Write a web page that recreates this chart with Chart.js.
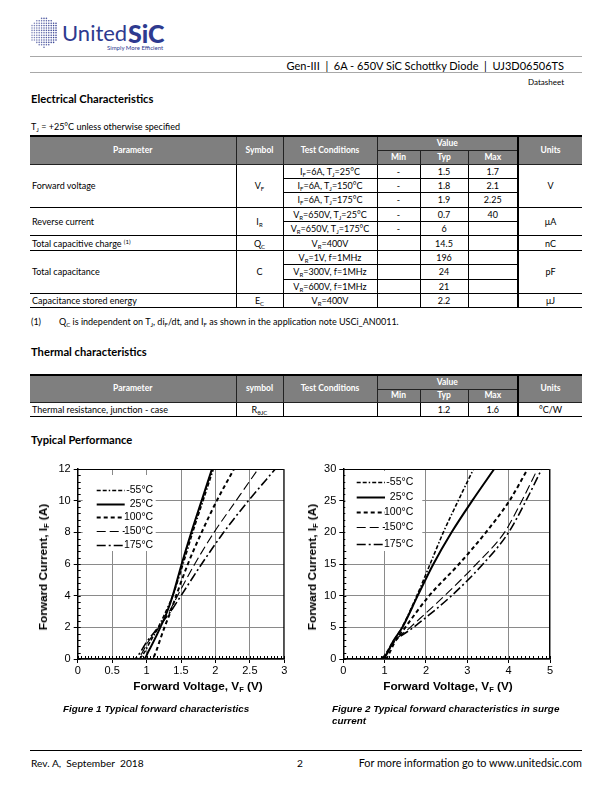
<!DOCTYPE html>
<html>
<head>
<meta charset="utf-8">
<script src="https://cdn.jsdelivr.net/npm/chart.js@4.4.1/dist/chart.umd.min.js"></script>
<style>
body{margin:0;width:612px;height:792px;position:relative;background:#fff;font-family:Lato,"Open Sans",sans-serif;color:#000;overflow:hidden}
.t{position:absolute;white-space:nowrap;line-height:12px}
.hd{font-weight:bold;font-size:11.2px}
.rule{position:absolute;left:30px;width:552px;height:0}
table{position:absolute;left:30px;width:552px;border-collapse:collapse;table-layout:fixed;font-size:9px}
th,td{padding:0;text-align:center;border:1px solid #000;white-space:nowrap;overflow:hidden;line-height:9px}
th{background:#7f7f7f;color:#fff;font-weight:bold;border-color:#222;font-size:8.5px}
tr.top th{border-top:2px solid #000}
td.l{text-align:left;padding-left:2px}
th:first-child,td.l{border-left:none}
th:last-child,td.u{border-right:none}
.u{border-left:2px solid #000 !important}
sub{font-size:6px;vertical-align:-1.5px;line-height:0}
sup{font-size:6px;vertical-align:3px;line-height:0}
.ax{position:absolute;font-family:"Liberation Sans",Arial,sans-serif;font-weight:bold;font-size:11.8px;white-space:nowrap;line-height:12px}
.ax sub{font-size:7.5px;vertical-align:-2px}
.cap{position:absolute;font-family:"Liberation Sans",Arial,sans-serif;font-weight:bold;font-style:italic;font-size:9.9px;line-height:12px;white-space:nowrap}
.box{position:absolute}
</style>
</head>
<body>

<canvas id="logoIcon" width="30" height="34" style="position:absolute;left:30px;top:15px"></canvas>
<div class="t" style="left:62px;top:21px;font-size:22px;line-height:24px;color:#2e3a8f;font-weight:400">United</div>
<div class="t" style="left:128px;top:20px;font-size:25px;line-height:26px;color:#2e3a8f;font-weight:900">SiC</div>
<div class="t" style="left:107px;top:44px;font-size:6px;line-height:7px;color:#2e3a8f">Simply More Efficient</div>

<div class="rule" style="top:56px;border-top:1.5px solid #a8a8a8"></div>
<div class="t" style="right:48px;top:60px;font-size:11px">Gen-III&nbsp; | &nbsp;6A - 650V SiC Schottky Diode&nbsp; | &nbsp;UJ3D06506TS</div>
<div class="rule" style="top:72px;border-top:1.5px solid #a8a8a8"></div>
<div class="t" style="right:48px;top:76px;font-size:8px">Datasheet</div>

<div class="t hd" style="left:31px;top:93px">Electrical Characteristics</div>
<div class="t" style="left:31px;top:121px;font-size:9px">T<sub>J</sub> = +25°C unless otherwise specified</div>

<table style="top:135px">
<colgroup><col style="width:206px"><col style="width:47px"><col style="width:94px"><col style="width:43px"><col style="width:48px"><col style="width:50px"><col style="width:64px"></colgroup>
<tr class="top" style="height:14px"><th rowspan="2">Parameter</th><th rowspan="2">Symbol</th><th rowspan="2">Test Conditions</th><th colspan="3">Value</th><th rowspan="2" class="u">Units</th></tr>
<tr style="height:14px"><th>Min</th><th>Typ</th><th>Max</th></tr>
<tr style="height:14.4px"><td rowspan="3" class="l">Forward voltage</td><td rowspan="3">V<sub>F</sub></td><td>I<sub>F</sub>=6A, T<sub>J</sub>=25°C</td><td>-</td><td>1.5</td><td>1.7</td><td rowspan="3" class="u">V</td></tr>
<tr style="height:14.4px"><td>I<sub>F</sub>=6A, T<sub>J</sub>=150°C</td><td>-</td><td>1.8</td><td>2.1</td></tr>
<tr style="height:14.4px"><td>I<sub>F</sub>=6A, T<sub>J</sub>=175°C</td><td>-</td><td>1.9</td><td>2.25</td></tr>
<tr style="height:14.4px"><td rowspan="2" class="l">Reverse current</td><td rowspan="2">I<sub>R</sub></td><td>V<sub>R</sub>=650V, T<sub>J</sub>=25°C</td><td>-</td><td>0.7</td><td>40</td><td rowspan="2" class="u">μA</td></tr>
<tr style="height:14.4px"><td>V<sub>R</sub>=650V, T<sub>J</sub>=175°C</td><td>-</td><td>6</td><td></td></tr>
<tr style="height:14.4px"><td class="l">Total capacitive charge <sup>(1)</sup></td><td>Q<sub>C</sub></td><td>V<sub>R</sub>=400V</td><td></td><td>14.5</td><td></td><td class="u">nC</td></tr>
<tr style="height:14.4px"><td rowspan="3" class="l">Total capacitance</td><td rowspan="3">C</td><td>V<sub>R</sub>=1V, f=1MHz</td><td></td><td>196</td><td></td><td rowspan="3" class="u">pF</td></tr>
<tr style="height:14.4px"><td>V<sub>R</sub>=300V, f=1MHz</td><td></td><td>24</td><td></td></tr>
<tr style="height:14.4px"><td>V<sub>R</sub>=600V, f=1MHz</td><td></td><td>21</td><td></td></tr>
<tr style="height:14.4px"><td class="l">Capacitance stored energy</td><td>E<sub>C</sub></td><td>V<sub>R</sub>=400V</td><td></td><td>2.2</td><td></td><td class="u">μJ</td></tr>
</table>
<div class="t" style="left:31px;top:316px;font-size:9px">(1)</div>
<div class="t" style="left:59px;top:316px;font-size:9px">Q<sub>C</sub> is independent on T<sub>J</sub>, di<sub>F</sub>/dt, and I<sub>F</sub> as shown in the application note USCi_AN0011.</div>

<div class="t hd" style="left:31px;top:346px">Thermal characteristics</div>
<table style="top:374px">
<colgroup><col style="width:206px"><col style="width:47px"><col style="width:94px"><col style="width:43px"><col style="width:48px"><col style="width:50px"><col style="width:64px"></colgroup>
<tr class="top" style="height:14px"><th rowspan="2">Parameter</th><th rowspan="2">symbol</th><th rowspan="2">Test Conditions</th><th colspan="3">Value</th><th rowspan="2" class="u">Units</th></tr>
<tr style="height:13px"><th>Min</th><th>Typ</th><th>Max</th></tr>
<tr style="height:14px"><td class="l">Thermal resistance, junction - case</td><td>R<sub>θJC</sub></td><td></td><td></td><td>1.2</td><td>1.6</td><td class="u">°C/W</td></tr>
</table>

<div class="t hd" style="left:31px;top:434px">Typical Performance</div>

<div class="box" style="left:25px;top:459px;width:270px;height:240px"><canvas id="fig1" width="270" height="240"></canvas></div>
<div class="box" style="left:290px;top:459px;width:270px;height:240px"><canvas id="fig2" width="270" height="240"></canvas></div>

<div class="ax" style="left:43px;top:567px;transform:translate(-50%,-50%) rotate(-90deg)">Forward Current, I<sub>F</sub> (A)</div>
<div class="ax" style="left:312px;top:567px;transform:translate(-50%,-50%) rotate(-90deg)">Forward Current, I<sub>F</sub> (A)</div>
<div class="ax" style="left:198px;top:686px;transform:translate(-50%,-50%)">Forward Voltage, V<sub>F</sub> (V)</div>
<div class="ax" style="left:448px;top:686px;transform:translate(-50%,-50%)">Forward Voltage, V<sub>F</sub> (V)</div>

<div class="cap" style="left:63px;top:703px">Figure 1 Typical forward characteristics</div>
<div class="cap" style="left:332px;top:703px">Figure 2 Typical forward characteristics in surge</div>
<div class="cap" style="left:332px;top:715px">current</div>

<div class="rule" style="top:750px;border-top:1.5px solid #000"></div>
<div class="t" style="left:31px;top:757px;font-size:10.2px">Rev. A,&nbsp; September&nbsp; 2018</div>
<div class="t" style="left:297px;top:757px;font-size:10.2px">2</div>
<div class="t" style="right:30px;top:757px;font-size:10.8px">For more information go to www.unitedsic.com</div>

<script>
const temps = ["-55°C", "25°C", "100°C", "150°C", "175°C"];

// Figure 1: forward current (A) vs forward voltage (V)
const fig1Current = [0, 0, 0.5, 1, 2, 3, 4, 6, 8, 10, 12];
const fig1VfM55 = [0, 0.88, 0.98, 1.04, 1.17, 1.28, 1.38, 1.53, 1.67, 1.82, 1.97];
const fig1Vf25 = [0, 0.96, 1.03, 1.09, 1.2, 1.3, 1.38, 1.51, 1.65, 1.8, 1.95];
const fig1Vf100 = [0, 1.08, 1.14, 1.18, 1.26, 1.35, 1.43, 1.6, 1.8, 2.02, 2.27];
const fig1Vf150 = [0, 0.86, 0.95, 1.01, 1.18, 1.33, 1.45, 1.7, 1.98, 2.3, 2.62];
const fig1Vf175 = [0, 0.82, 0.92, 0.99, 1.17, 1.35, 1.5, 1.8, 2.12, 2.48, 2.87];

// Figure 2: surge current
const fig2Current = [0, 0, 1, 2.5, 5, 10, 15, 20, 25, 30];
const fig2VfM55 = [0, 0.88, 1.04, 1.18, 1.42, 1.78, 2.1, 2.42, 2.78, 3.15];
const fig2Vf25 = [0, 0.95, 1.07, 1.18, 1.43, 1.8, 2.18, 2.62, 3.12, 3.65];
const fig2Vf100 = [0, 1.02, 1.12, 1.23, 1.5, 2.08, 2.8, 3.45, 4.02, 4.46];
const fig2Vf150 = [0, 0.93, 1.07, 1.2, 1.62, 2.45, 3.22, 3.9, 4.32, 4.7];
const fig2Vf175 = [0, 0.9, 1.05, 1.2, 1.7, 2.62, 3.38, 4.0, 4.42, 4.8];

const lineStyles = [
	{ dash: [4, 2, 4, 2, 1.5, 2], width: 1.6 },
	{ dash: [], width: 2 },
	{ dash: [4, 3], width: 2 },
	{ dash: [9, 4], width: 1.1 },
	{ dash: [9, 3, 2, 3], width: 1.6 },
];

// logo dots
const drawLogo = () => {
	const ctx = document.getElementById("logoIcon").getContext("2d");
	const cx = 14.5, cy = 17, r = 16;
	ctx.fillStyle = "#2e3a8f";
	for (let x = 2; x < 28; x += 2.4) {
		for (let y = 1; y < 34; y += 2.4) {
			const dx = Math.abs(x - cx), dy = Math.abs(y - cy);
			if (dx > r * 0.82 || dy > r - dx * 0.58) continue;
			ctx.globalAlpha = 0.55 + 0.45 * (x / 28);
			ctx.beginPath();
			ctx.arc(x, y, 0.8, 0, Math.PI * 2);
			ctx.fill();
		}
	}
};
drawLogo();

const framePlugin = {
	id: "frame",
	beforeDatasetsDraw(chart, args, opts) {
		const { ctx, chartArea: a, scales } = chart;
		ctx.save();
		ctx.strokeStyle = "#000";
		ctx.lineWidth = 1;
		// minor ticks inside the axes
		for (let v = 0; v <= scales.x.max + 1e-9; v += opts.xMinor) {
			const px = Math.round(scales.x.getPixelForValue(v)) + 0.5;
			ctx.beginPath();
			ctx.moveTo(px, a.bottom);
			ctx.lineTo(px, a.bottom - 3);
			ctx.stroke();
		}
		for (let v = 0; v <= scales.y.max + 1e-9; v += opts.yMinor) {
			const py = Math.round(scales.y.getPixelForValue(v)) + 0.5;
			ctx.beginPath();
			ctx.moveTo(a.left, py);
			ctx.lineTo(a.left + 3, py);
			ctx.stroke();
		}
		ctx.beginPath();
		ctx.moveTo(a.left, a.top + 0.5);
		ctx.lineTo(a.right - 0.5, a.top + 0.5);
		ctx.lineTo(a.right - 0.5, a.bottom);
		ctx.stroke();
		// legend
		const lg = opts.legend;
		ctx.fillStyle = "#fff";
		ctx.fillRect(a.left + lg.box[0], a.top + lg.box[1], lg.box[2], lg.box[3]);
		ctx.fillStyle = "#000";
		ctx.font = "10.5px 'Liberation Sans', Arial, sans-serif";
		ctx.textAlign = "right";
		ctx.textBaseline = "middle";
		chart.data.datasets.forEach((ds, i) => {
			const y = Math.round(a.top + lg.rows[i]) + 0.5;
			ctx.save();
			ctx.lineWidth = ds.borderWidth;
			ctx.setLineDash(ds.borderDash);
			ctx.beginPath();
			ctx.moveTo(a.left + lg.x0, y);
			ctx.lineTo(a.left + lg.x1, y);
			ctx.stroke();
			ctx.restore();
			ctx.fillText(ds.label, a.left + lg.textRight, y);
		});
		ctx.restore();
	},
};

const buildChart = (id, current, voltages, geo) => {
	const datasets = voltages.map((vf, i) => ({
		label: temps[i],
		data: vf.map((v, k) => ({ x: v, y: current[k] })),
		borderColor: "#000",
		borderWidth: lineStyles[i].width,
		borderDash: lineStyles[i].dash,
		pointRadius: 0,
		showLine: true,
		fill: false,
		cubicInterpolationMode: "monotone",
	}));

	const tickFont = { family: "'Liberation Sans', Arial, sans-serif", size: 11 };
	const fmt = v => String(Math.round(v * 10) / 10);

	const options = {
		responsive: false,
		animation: false,
		devicePixelRatio: 1,
		layout: { padding: { top: 10, right: geo.padRight, left: 0, bottom: 0 } },
		plugins: {
			legend: { display: false },
			tooltip: { enabled: false },
			frame: { xMinor: geo.xMinor, yMinor: geo.yMinor, legend: geo.legend },
		},
		scales: {
			x: {
				type: "linear",
				min: 0,
				max: geo.xMax,
				ticks: { stepSize: geo.xStep, font: tickFont, color: "#000", padding: 1, maxRotation: 0, callback: fmt },
				grid: { color: "#8a8a8a", lineWidth: 1, tickLength: 4, tickColor: "#000" },
				border: { color: "#000", width: 1.5 },
				afterFit: s => { s.height = 40; },
			},
			y: {
				type: "linear",
				min: 0,
				max: geo.yMax,
				ticks: { stepSize: geo.yStep, font: tickFont, color: "#000", padding: 3, callback: fmt },
				grid: { color: "#8a8a8a", lineWidth: 1, tickLength: 4, tickColor: "#000" },
				border: { color: "#000", width: 1.5 },
				afterFit: s => { s.width = geo.yWidth; },
			},
		},
	};

	return new Chart(document.getElementById(id), {
		type: "scatter",
		data: { datasets },
		options,
		plugins: [framePlugin],
	});
};

buildChart("fig1", fig1Current, [fig1VfM55, fig1Vf25, fig1Vf100, fig1Vf150, fig1Vf175], {
	xMax: 3, xStep: 0.5, xMinor: 0.05, yMax: 12, yStep: 2, yMinor: 0.4,
	yWidth: 52.7, padRight: 10.7,
	legend: { box: [5, 6, 73, 76], rows: [21, 34.5, 48, 62, 75.5], x0: 19, x1: 47, textRight: 75.5 },
});

buildChart("fig2", fig2Current, [fig2VfM55, fig2Vf25, fig2Vf100, fig2Vf150, fig2Vf175], {
	xMax: 5, xStep: 1, xMinor: 0.1, yMax: 30, yStep: 5, yMinor: 1,
	yWidth: 53.3, padRight: 10,
	legend: { box: [2, 2, 77, 80], rows: [12.7, 27.5, 43, 58, 74.5], x0: 13.4, x1: 41.7, textRight: 70 },
});
</script>
</body>
</html>
